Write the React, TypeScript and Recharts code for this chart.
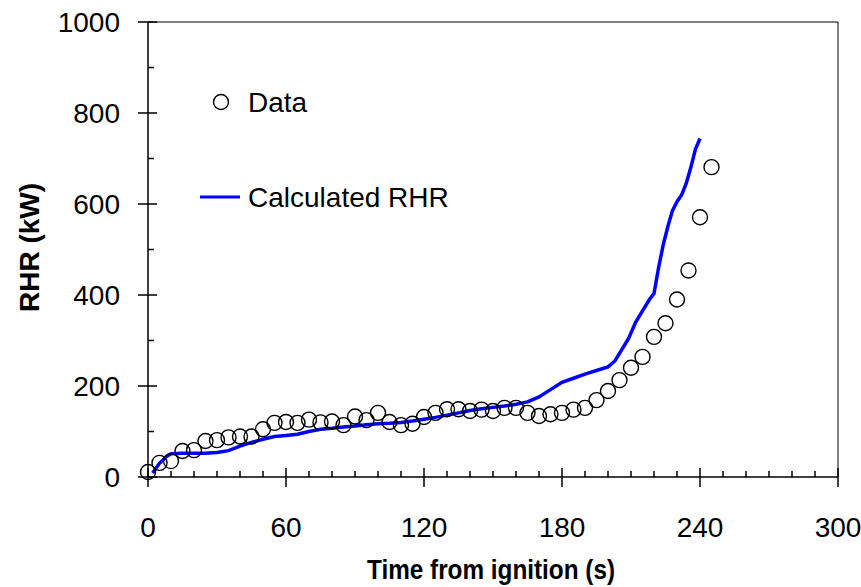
import { ScatterChart, Scatter, XAxis, YAxis, ReferenceLine, Legend } from 'recharts'

// measured heat release (circles)
const dataTime = [0, 5, 10, 15, 20, 25, 30, 35, 40, 45, 50, 55, 60, 65, 70, 75, 80, 85, 90, 95, 100, 105, 110, 115, 120, 125, 130, 135, 140, 145, 150, 155, 160, 165, 170, 175, 180, 185, 190, 195, 200, 205, 210, 215, 220, 225, 230, 235, 240, 245]
const dataRhr = [11, 31, 35, 57, 59, 79, 81, 87, 89, 89, 105, 119, 121, 119, 126, 120, 122, 114, 133, 125, 141, 121, 114, 117, 132, 141, 149, 149, 145, 148, 145, 152, 152, 141, 134, 138, 141, 148, 152, 169, 189, 213, 240, 264, 308, 338, 390, 454, 571, 681]

// calculated heat release (blue line)
const calcTime = [2, 5, 8, 10, 15, 20, 25, 30, 35, 40, 45, 50, 55, 60, 65, 70, 75, 80, 85, 90, 95, 100, 105, 110, 115, 120, 125, 130, 135, 140, 145, 150, 155, 160, 165, 170, 175, 180, 185, 190, 195, 200, 203, 206, 209, 212, 215, 218, 220, 222, 224, 226, 228, 230, 232, 234, 236, 238, 240]
const calcRhr = [9, 30, 45, 51, 52, 52, 52, 54, 58, 68, 76, 83, 89, 91, 94, 100, 105, 107, 110, 112, 115, 117, 118, 120, 123, 127, 131, 136, 141, 146, 150, 153, 156, 160, 165, 176, 192, 208, 217, 226, 234, 242, 255, 280, 305, 340, 365, 390, 403, 460, 510, 550, 585, 605, 620, 645, 680, 720, 744]

const xTicks = [0, 10, 20, 30, 40, 50, 60, 70, 80, 90, 100, 110, 120, 130, 140, 150, 160, 170, 180, 190, 200, 210, 220, 230, 240, 250, 260, 270, 280, 290, 300]
const yTicks = [0, 100, 200, 300, 400, 500, 600, 700, 800, 900, 1000]

const measured = dataTime.map((t, i) => ({ t, v: dataRhr[i] }))
const calculated = calcTime.map((t, i) => ({ t, v: calcRhr[i] }))

const FONT = 'Arial, "Liberation Sans", sans-serif'

const XTick = (props: any) => {
  const { x, y, payload } = props
  const major = payload.value % 60 === 0
  return (
    <g>
      <line x1={x} x2={x} y1={major ? y - 9 : y - 6} y2={major ? y + 10 : y} stroke="#000" strokeWidth={1.5} />
      {major && (
        <text x={x} y={y + 50} textAnchor="middle" dominantBaseline="central" fontSize={28} fontFamily={FONT} fill="#000">
          {payload.value}
        </text>
      )}
    </g>
  )
}

const YTick = (props: any) => {
  const { x, y, payload } = props
  const major = payload.value % 200 === 0
  return (
    <g>
      <line x1={major ? x - 10 : x} x2={major ? x + 9 : x + 6} y1={y} y2={y} stroke="#000" strokeWidth={1.5} />
      {major && (
        <text x={x - 28} y={y} textAnchor="end" dominantBaseline="central" fontSize={28} fontFamily={FONT} fill="#000">
          {payload.value}
        </text>
      )}
    </g>
  )
}

const XTitle = (props: any) => {
  const { viewBox } = props
  const cx = viewBox.x + viewBox.width / 2 - 2
  const cy = viewBox.y + viewBox.height - 18
  return (
    <text x={cx} y={cy} textAnchor="middle" dominantBaseline="central" fontSize={28} fontWeight="bold" fontFamily={FONT} fill="#000" textLength={248} lengthAdjust="spacingAndGlyphs">
      Time from ignition (s)
    </text>
  )
}

const YTitle = (props: any) => {
  const { viewBox } = props
  const cx = viewBox.x + 29
  const cy = viewBox.y + viewBox.height / 2 - 2
  return (
    <text x={cx} y={cy} transform={`rotate(-90, ${cx}, ${cy})`} textAnchor="middle" dominantBaseline="central" fontSize={28} fontWeight="bold" fontFamily={FONT} fill="#000">
      RHR (kW)
    </text>
  )
}

const Circle = (props: any) => <circle cx={props.cx} cy={props.cy} r={7.5} fill="none" stroke="#000" strokeWidth={1.4} />

const LegendBox = () => (
  <svg width={320} height={150}>
    <circle cx={31} cy={27} r={7.5} fill="none" stroke="#000" strokeWidth={1.4} />
    <text x={58} y={27} dominantBaseline="central" fontSize={28} fontFamily={FONT} fill="#000">Data</text>
    <line x1={10} x2={50} y1={122} y2={122} stroke="#0000FF" strokeWidth={3} />
    <text x={58} y={122} dominantBaseline="central" fontSize={28} fontFamily={FONT} fill="#000">Calculated RHR</text>
  </svg>
)

export default function App() {
  return (
    <div style={{ position: 'absolute', left: 0, top: 0, background: '#fff' }}>
      <ScatterChart width={861} height={587} margin={{ top: 22, right: 23, bottom: 0, left: 0 }}>
        <XAxis
          type="number"
          dataKey="t"
          domain={[0, 300]}
          ticks={xTicks}
          interval={0}
          height={110}
          tickSize={0}
          tickMargin={0}
          tickLine={false}
          tick={<XTick />}
          axisLine={{ stroke: '#000', strokeWidth: 1.5 }}
          label={{ content: <XTitle /> }}
        />
        <YAxis
          type="number"
          dataKey="v"
          domain={[0, 1000]}
          ticks={yTicks}
          interval={0}
          width={148}
          tickSize={0}
          tickMargin={0}
          tickLine={false}
          tick={<YTick />}
          axisLine={{ stroke: '#000', strokeWidth: 1.5 }}
          label={{ content: <YTitle /> }}
        />
        <ReferenceLine y={1000} stroke="#808080" strokeWidth={2} />
        <ReferenceLine x={300} stroke="#000" strokeWidth={1} />
        <Scatter data={calculated} line={{ stroke: '#0000FF', strokeWidth: 3.5 }} shape={() => <g />} isAnimationActive={false} />
        <Scatter data={measured} shape={<Circle />} isAnimationActive={false} />
        <Legend
          layout="vertical"
          align="center"
          verticalAlign="middle"
          wrapperStyle={{ position: 'absolute', left: 190, top: 75, width: 320 }}
          content={() => <LegendBox />}
        />
      </ScatterChart>
    </div>
  )
}
